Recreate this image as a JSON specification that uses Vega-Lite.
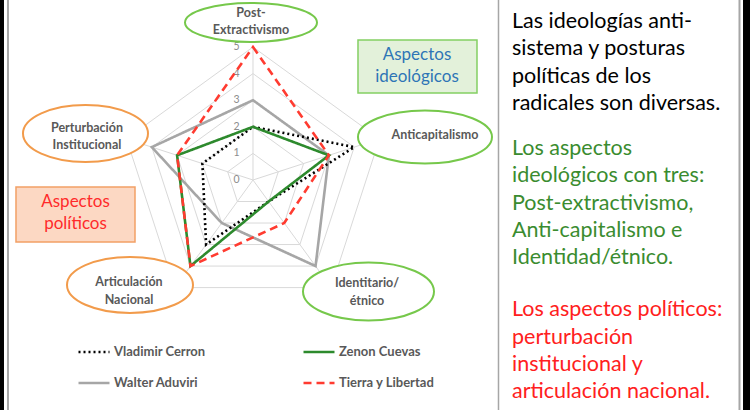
{
  "$schema": "https://vega.github.io/schema/vega-lite/v6.json",
  "width": 750,
  "height": 410,
  "autosize": {"type": "none"},
  "padding": 0,
  "background": "white",
  "config": {"view": {"stroke": null}},
  "datasets": {
    "series": [
      {"serie": "Walter Aduviri", "axis": "Post-Extractivismo", "value": 3},
      {"serie": "Walter Aduviri", "axis": "Anticapitalismo", "value": 3},
      {"serie": "Walter Aduviri", "axis": "Identitario/étnico", "value": 4},
      {"serie": "Walter Aduviri", "axis": "Articulación Nacional", "value": 2},
      {"serie": "Walter Aduviri", "axis": "Perturbación Institucional", "value": 4},
      {"serie": "Vladimir Cerron", "axis": "Post-Extractivismo", "value": 2},
      {"serie": "Vladimir Cerron", "axis": "Anticapitalismo", "value": 4},
      {"serie": "Vladimir Cerron", "axis": "Identitario/étnico", "value": 1},
      {"serie": "Vladimir Cerron", "axis": "Articulación Nacional", "value": 3},
      {"serie": "Vladimir Cerron", "axis": "Perturbación Institucional", "value": 2},
      {"serie": "Zenon Cuevas", "axis": "Post-Extractivismo", "value": 2},
      {"serie": "Zenon Cuevas", "axis": "Anticapitalismo", "value": 3},
      {"serie": "Zenon Cuevas", "axis": "Identitario/étnico", "value": 1},
      {"serie": "Zenon Cuevas", "axis": "Articulación Nacional", "value": 4},
      {"serie": "Zenon Cuevas", "axis": "Perturbación Institucional", "value": 3},
      {"serie": "Tierra y Libertad", "axis": "Post-Extractivismo", "value": 5},
      {"serie": "Tierra y Libertad", "axis": "Anticapitalismo", "value": 3},
      {"serie": "Tierra y Libertad", "axis": "Identitario/étnico", "value": 2},
      {"serie": "Tierra y Libertad", "axis": "Articulación Nacional", "value": 4},
      {"serie": "Tierra y Libertad", "axis": "Perturbación Institucional", "value": 3}
    ],
    "grid": [
      {"axis": "Post-Extractivismo", "levels": [1, 2, 3, 4, 5]},
      {"axis": "Anticapitalismo", "levels": [1, 2, 3, 4, 5]},
      {"axis": "Identitario/étnico", "levels": [1, 2, 3, 4, 5]},
      {"axis": "Articulación Nacional", "levels": [1, 2, 3, 4, 5]},
      {"axis": "Perturbación Institucional", "levels": [1, 2, 3, 4, 5]}
    ],
    "ticks": [{"level": 0}, {"level": 1}, {"level": 2}, {"level": 3}, {"level": 4}, {"level": 5}]
  },
  "layer": [
    {
      "data": {"name": "grid"},
      "transform": [
        {"calculate": "indexof(['Post-Extractivismo','Anticapitalismo','Identitario/étnico','Articulación Nacional','Perturbación Institucional'], datum.axis)", "as": "i"},
        {"calculate": "PI/2 - datum.i*2*PI/5", "as": "ang"},
        {"calculate": "5*cos(datum.ang)", "as": "px"},
        {"calculate": "5*sin(datum.ang)", "as": "py"}
      ],
      "mark": {"type": "rule", "color": "#d9d9d9", "strokeWidth": 1},
      "encoding": {
        "x": {"field": "px", "type": "quantitative", "scale": {"domain": [-9.511, 18.684], "nice": false, "zero": false}, "axis": null},
        "y": {"field": "py", "type": "quantitative", "scale": {"domain": [-8.647, 6.767], "nice": false, "zero": false}, "axis": null},
        "x2": {"datum": 0},
        "y2": {"datum": 0}
      }
    },
    {
      "data": {"name": "grid"},
      "transform": [
        {"flatten": ["levels"], "as": ["level"]},
        {"calculate": "indexof(['Post-Extractivismo','Anticapitalismo','Identitario/étnico','Articulación Nacional','Perturbación Institucional'], datum.axis)", "as": "i"},
        {"calculate": "PI/2 - datum.i*2*PI/5", "as": "ang"},
        {"calculate": "datum.level*cos(datum.ang)", "as": "px"},
        {"calculate": "datum.level*sin(datum.ang)", "as": "py"}
      ],
      "mark": {"type": "line", "interpolate": "linear-closed", "color": "#d9d9d9", "strokeWidth": 1},
      "encoding": {
        "x": {"field": "px", "type": "quantitative", "scale": {"domain": [-9.511, 18.684], "nice": false, "zero": false}, "axis": null},
        "y": {"field": "py", "type": "quantitative", "scale": {"domain": [-8.647, 6.767], "nice": false, "zero": false}, "axis": null},
        "detail": {"field": "level", "type": "nominal"},
        "order": {"field": "i", "type": "quantitative"}
      }
    },
    {
      "data": {"name": "ticks"},
      "mark": {"type": "text", "font": "Lato", "fontSize": 10.5, "color": "#8c8c8c", "align": "center", "baseline": "middle"},
      "encoding": {
        "x": {"datum": -0.62, "type": "quantitative", "scale": {"domain": [-9.511, 18.684], "nice": false, "zero": false}, "axis": null},
        "y": {"field": "level", "type": "quantitative", "scale": {"domain": [-8.647, 6.767], "nice": false, "zero": false}, "axis": null},
        "text": {"field": "level", "type": "quantitative"}
      }
    },
    {
      "data": {"name": "series"},
      "transform": [
        {"calculate": "indexof(['Post-Extractivismo','Anticapitalismo','Identitario/étnico','Articulación Nacional','Perturbación Institucional'], datum.axis)", "as": "i"},
        {"calculate": "PI/2 - datum.i*2*PI/5", "as": "ang"},
        {"calculate": "datum.value*cos(datum.ang)", "as": "px"},
        {"calculate": "datum.value*sin(datum.ang)", "as": "py"}
      ],
      "mark": {"type": "line", "interpolate": "linear-closed", "strokeWidth": 2.6},
      "encoding": {
        "x": {"field": "px", "type": "quantitative", "scale": {"domain": [-9.511, 18.684], "nice": false, "zero": false}, "axis": null},
        "y": {"field": "py", "type": "quantitative", "scale": {"domain": [-8.647, 6.767], "nice": false, "zero": false}, "axis": null},
        "order": {"field": "i", "type": "quantitative"},
        "color": {
          "field": "serie", "type": "nominal",
          "scale": {"domain": ["Vladimir Cerron", "Zenon Cuevas", "Walter Aduviri", "Tierra y Libertad"], "range": ["#000000", "#2d8a2d", "#a6a6a6", "#ff3b30"]},
          "legend": {"title": null, "orient": "none", "legendX": 77, "legendY": 335, "columns": 2, "direction": "horizontal", "columnPadding": 92, "rowPadding": 7, "symbolType": "stroke", "symbolSize": 961, "symbolStrokeWidth": 2.5, "labelFont": "Lato", "labelFontWeight": "bold", "labelFontSize": 13, "labelColor": "#595959", "labelOffset": 3, "padding": 0}
        },
        "strokeDash": {
          "field": "serie", "type": "nominal",
          "scale": {"domain": ["Vladimir Cerron", "Zenon Cuevas", "Walter Aduviri", "Tierra y Libertad"], "range": [[2, 3], [1, 0], [1, 0], [8, 5]]},
          "legend": {"title": null, "orient": "none", "legendX": 77, "legendY": 335, "columns": 2, "direction": "horizontal", "columnPadding": 92, "rowPadding": 7, "symbolType": "stroke", "symbolSize": 961, "symbolStrokeWidth": 2.5, "labelFont": "Lato", "labelFontWeight": "bold", "labelFontSize": 13, "labelColor": "#595959", "labelOffset": 3, "padding": 0}
        }
      }
    },
    {
      "data": {"values": [{}]},
      "mark": {"type": "point", "shape": "M -1 0 A 1 0.295 0 1 1 1 0 A 1 0.295 0 1 1 -1 0 Z", "size": 17424, "filled": true, "fill": "white", "fillOpacity": 1, "opacity": 1, "stroke": "#76c84b", "strokeWidth": 2},
      "encoding": {
        "x": {"datum": -0.075, "type": "quantitative", "scale": {"domain": [-9.511, 18.684], "nice": false, "zero": false}, "axis": null},
        "y": {"datum": 5.921, "type": "quantitative", "scale": {"domain": [-8.647, 6.767], "nice": false, "zero": false}, "axis": null}
      }
    },
    {
      "data": {"values": [{}]},
      "mark": {"type": "point", "shape": "M -1 0 A 1 0.3955 0 1 1 1 0 A 1 0.3955 0 1 1 -1 0 Z", "size": 17956, "filled": true, "fill": "white", "fillOpacity": 1, "opacity": 1, "stroke": "#76c84b", "strokeWidth": 2},
      "encoding": {
        "x": {"datum": 6.466, "type": "quantitative", "scale": {"domain": [-9.511, 18.684], "nice": false, "zero": false}, "axis": null},
        "y": {"datum": 1.617, "type": "quantitative", "scale": {"domain": [-8.647, 6.767], "nice": false, "zero": false}, "axis": null}
      }
    },
    {
      "data": {"values": [{}]},
      "mark": {"type": "point", "shape": "M -1 0 A 1 0.443 0 1 1 1 0 A 1 0.443 0 1 1 -1 0 Z", "size": 17161, "filled": true, "fill": "white", "fillOpacity": 1, "opacity": 1, "stroke": "#76c84b", "strokeWidth": 2},
      "encoding": {
        "x": {"datum": 4.342, "type": "quantitative", "scale": {"domain": [-9.511, 18.684], "nice": false, "zero": false}, "axis": null},
        "y": {"datum": -4.192, "type": "quantitative", "scale": {"domain": [-8.647, 6.767], "nice": false, "zero": false}, "axis": null}
      }
    },
    {
      "data": {"values": [{}]},
      "mark": {"type": "point", "shape": "M -1 0 A 1 0.444 0 1 1 1 0 A 1 0.444 0 1 1 -1 0 Z", "size": 15876, "filled": true, "fill": "white", "fillOpacity": 1, "opacity": 1, "stroke": "#f29b4b", "strokeWidth": 2},
      "encoding": {
        "x": {"datum": -4.624, "type": "quantitative", "scale": {"domain": [-9.511, 18.684], "nice": false, "zero": false}, "axis": null},
        "y": {"datum": -3.947, "type": "quantitative", "scale": {"domain": [-8.647, 6.767], "nice": false, "zero": false}, "axis": null}
      }
    },
    {
      "data": {"values": [{}]},
      "mark": {"type": "point", "shape": "M -1 0 A 1 0.456 0 1 1 1 0 A 1 0.456 0 1 1 -1 0 Z", "size": 15625, "filled": true, "fill": "white", "fillOpacity": 1, "opacity": 1, "stroke": "#f29b4b", "strokeWidth": 2},
      "encoding": {
        "x": {"datum": -6.297, "type": "quantitative", "scale": {"domain": [-9.511, 18.684], "nice": false, "zero": false}, "axis": null},
        "y": {"datum": 1.748, "type": "quantitative", "scale": {"domain": [-8.647, 6.767], "nice": false, "zero": false}, "axis": null}
      }
    },
    {
      "data": {"values": [{}]},
      "mark": {"type": "text", "text": ["Post-", "Extractivismo"], "font": "Lato", "fontWeight": "bold", "fontSize": 12.5, "color": "#595959", "lineHeight": 17, "align": "center", "baseline": "middle"},
      "encoding": {
        "x": {"datum": -0.075, "type": "quantitative", "scale": {"domain": [-9.511, 18.684], "nice": false, "zero": false}, "axis": null},
        "y": {"datum": 6.278, "type": "quantitative", "scale": {"domain": [-8.647, 6.767], "nice": false, "zero": false}, "axis": null}
      }
    },
    {
      "data": {"values": [{}]},
      "mark": {"type": "text", "text": "Anticapitalismo", "font": "Lato", "fontWeight": "bold", "fontSize": 12.5, "color": "#595959", "align": "center", "baseline": "middle"},
      "encoding": {
        "x": {"datum": 6.842, "type": "quantitative", "scale": {"domain": [-9.511, 18.684], "nice": false, "zero": false}, "axis": null},
        "y": {"datum": 1.692, "type": "quantitative", "scale": {"domain": [-8.647, 6.767], "nice": false, "zero": false}, "axis": null}
      }
    },
    {
      "data": {"values": [{}]},
      "mark": {"type": "text", "text": ["Identitario/", "étnico"], "font": "Lato", "fontWeight": "bold", "fontSize": 12.5, "color": "#595959", "lineHeight": 18, "align": "center", "baseline": "middle"},
      "encoding": {
        "x": {"datum": 4.286, "type": "quantitative", "scale": {"domain": [-9.511, 18.684], "nice": false, "zero": false}, "axis": null},
        "y": {"datum": -3.872, "type": "quantitative", "scale": {"domain": [-8.647, 6.767], "nice": false, "zero": false}, "axis": null}
      }
    },
    {
      "data": {"values": [{}]},
      "mark": {"type": "text", "text": ["Articulación", "Nacional"], "font": "Lato", "fontWeight": "bold", "fontSize": 12.5, "color": "#595959", "lineHeight": 18, "align": "center", "baseline": "middle"},
      "encoding": {
        "x": {"datum": -4.662, "type": "quantitative", "scale": {"domain": [-9.511, 18.684], "nice": false, "zero": false}, "axis": null},
        "y": {"datum": -3.835, "type": "quantitative", "scale": {"domain": [-8.647, 6.767], "nice": false, "zero": false}, "axis": null}
      }
    },
    {
      "data": {"values": [{}]},
      "mark": {"type": "text", "text": ["Perturbación", "Institucional"], "font": "Lato", "fontWeight": "bold", "fontSize": 12.5, "color": "#595959", "lineHeight": 17, "align": "center", "baseline": "middle"},
      "encoding": {
        "x": {"datum": -6.241, "type": "quantitative", "scale": {"domain": [-9.511, 18.684], "nice": false, "zero": false}, "axis": null},
        "y": {"datum": 1.955, "type": "quantitative", "scale": {"domain": [-8.647, 6.767], "nice": false, "zero": false}, "axis": null}
      }
    },
    {
      "data": {"values": [{}]},
      "mark": {"type": "rect", "fill": "#e3f1da", "stroke": "#84cf63", "strokeWidth": 1.5},
      "encoding": {
        "x": {"datum": 3.947, "type": "quantitative", "scale": {"domain": [-9.511, 18.684], "nice": false, "zero": false}, "axis": null},
        "x2": {"datum": 8.421},
        "y": {"datum": 5.263, "type": "quantitative", "scale": {"domain": [-8.647, 6.767], "nice": false, "zero": false}, "axis": null},
        "y2": {"datum": 3.271}
      }
    },
    {
      "data": {"values": [{}]},
      "mark": {"type": "text", "text": ["Aspectos", "ideológicos"], "font": "Lato", "fontSize": 17, "color": "#2e75b6", "lineHeight": 22, "align": "center", "baseline": "middle"},
      "encoding": {
        "x": {"datum": 6.165, "type": "quantitative", "scale": {"domain": [-9.511, 18.684], "nice": false, "zero": false}, "axis": null},
        "y": {"datum": 4.699, "type": "quantitative", "scale": {"domain": [-8.647, 6.767], "nice": false, "zero": false}, "axis": null}
      }
    },
    {
      "data": {"values": [{}]},
      "mark": {"type": "rect", "fill": "#fcd8c3", "stroke": "#f2a066", "strokeWidth": 1.5},
      "encoding": {
        "x": {"datum": -8.91, "type": "quantitative", "scale": {"domain": [-9.511, 18.684], "nice": false, "zero": false}, "axis": null},
        "x2": {"datum": -4.436},
        "y": {"datum": -0.263, "type": "quantitative", "scale": {"domain": [-8.647, 6.767], "nice": false, "zero": false}, "axis": null},
        "y2": {"datum": -2.331}
      }
    },
    {
      "data": {"values": [{}]},
      "mark": {"type": "text", "text": ["Aspectos", "políticos"], "font": "Lato", "fontSize": 17, "color": "#ff2a2a", "lineHeight": 22, "align": "center", "baseline": "middle"},
      "encoding": {
        "x": {"datum": -6.673, "type": "quantitative", "scale": {"domain": [-9.511, 18.684], "nice": false, "zero": false}, "axis": null},
        "y": {"datum": -0.827, "type": "quantitative", "scale": {"domain": [-8.647, 6.767], "nice": false, "zero": false}, "axis": null}
      }
    },
    {
      "data": {"values": [{}]},
      "mark": {"type": "text", "text": ["Las ideologías anti-", "sistema y posturas", "políticas de los", "radicales son diversas."], "font": "Lato", "fontSize": 21.5, "color": "#000000", "lineHeight": 27.3, "align": "left", "baseline": "middle"},
      "encoding": {
        "x": {"datum": 9.737, "type": "quantitative", "scale": {"domain": [-9.511, 18.684], "nice": false, "zero": false}, "axis": null},
        "y": {"datum": 5.94, "type": "quantitative", "scale": {"domain": [-8.647, 6.767], "nice": false, "zero": false}, "axis": null}
      }
    },
    {
      "data": {"values": [{}]},
      "mark": {"type": "text", "text": ["Los aspectos", "ideológicos con tres:", "Post-extractivismo,", "Anti-capitalismo e", "Identidad/étnico."], "font": "Lato", "fontSize": 21.5, "color": "#3a8c2f", "lineHeight": 27.3, "align": "left", "baseline": "middle"},
      "encoding": {
        "x": {"datum": 9.737, "type": "quantitative", "scale": {"domain": [-9.511, 18.684], "nice": false, "zero": false}, "axis": null},
        "y": {"datum": 1.165, "type": "quantitative", "scale": {"domain": [-8.647, 6.767], "nice": false, "zero": false}, "axis": null}
      }
    },
    {
      "data": {"values": [{}]},
      "mark": {"type": "text", "text": ["Los aspectos políticos:", "perturbación", "institucional y", "articulación nacional."], "font": "Lato", "fontSize": 21.5, "color": "#ff2020", "lineHeight": 27.3, "align": "left", "baseline": "middle"},
      "encoding": {
        "x": {"datum": 9.737, "type": "quantitative", "scale": {"domain": [-9.511, 18.684], "nice": false, "zero": false}, "axis": null},
        "y": {"datum": -4.9, "type": "quantitative", "scale": {"domain": [-8.647, 6.767], "nice": false, "zero": false}, "axis": null}
      }
    },
    {
      "data": {"values": [{}]},
      "mark": {"type": "rule", "color": "#a6a6a6", "strokeWidth": 2},
      "encoding": {
        "x": {"datum": -9.211, "type": "quantitative", "scale": {"domain": [-9.511, 18.684], "nice": false, "zero": false}, "axis": null}
      }
    },
    {
      "data": {"values": [{}]},
      "mark": {"type": "rule", "color": "#a6a6a6", "strokeWidth": 1.5},
      "encoding": {
        "x": {"datum": 9.229, "type": "quantitative", "scale": {"domain": [-9.511, 18.684], "nice": false, "zero": false}, "axis": null}
      }
    },
    {
      "data": {"values": [{}]},
      "mark": {"type": "rule", "color": "#a6a6a6", "strokeWidth": 2},
      "encoding": {
        "x": {"datum": 18.289, "type": "quantitative", "scale": {"domain": [-9.511, 18.684], "nice": false, "zero": false}, "axis": null}
      }
    },
    {
      "data": {"values": [{}]},
      "mark": {"type": "rule", "color": "#000000", "strokeWidth": 4},
      "encoding": {
        "x": {"datum": -9.436, "type": "quantitative", "scale": {"domain": [-9.511, 18.684], "nice": false, "zero": false}, "axis": null}
      }
    },
    {
      "data": {"values": [{}]},
      "mark": {"type": "rule", "color": "#000000", "strokeWidth": 7},
      "encoding": {
        "x": {"datum": 18.553, "type": "quantitative", "scale": {"domain": [-9.511, 18.684], "nice": false, "zero": false}, "axis": null}
      }
    }
  ]
}
